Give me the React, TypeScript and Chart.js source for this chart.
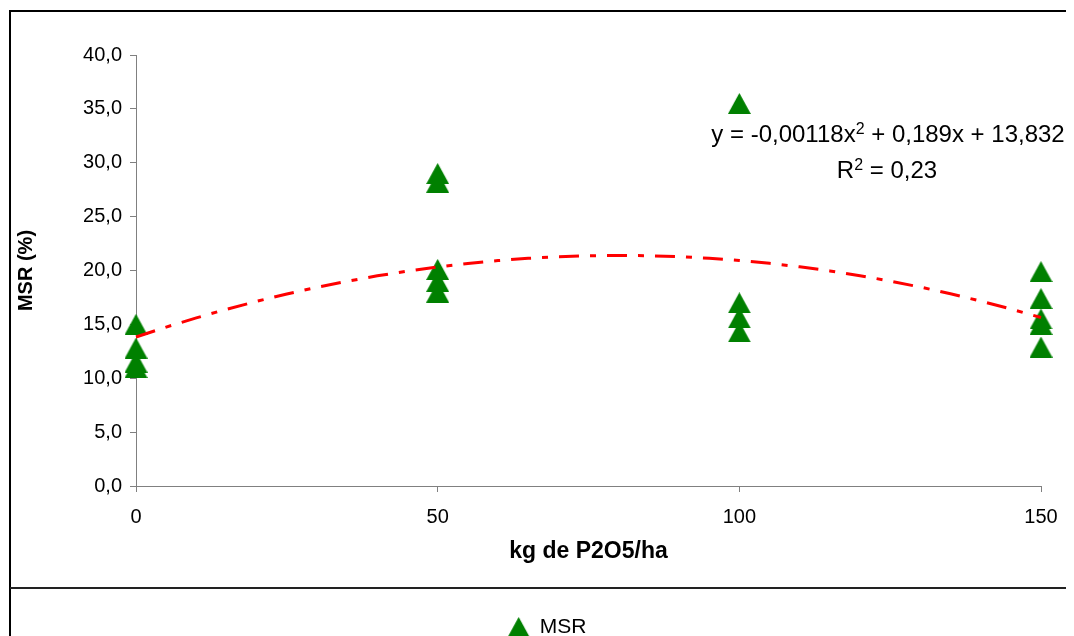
import React, { useEffect, useRef } from 'react';
import { Chart, registerables } from 'chart.js';

Chart.register(...registerables);

// ---- data ----
const DOSE_X = [0, 0, 0, 0, 50, 50, 50, 50, 50, 100, 100, 100, 100, 150, 150, 150, 150, 150];
const MSR_Y = [15.0, 12.8, 11.5, 11.0, 29.0, 28.2, 20.1, 19.0, 18.0, 35.5, 17.0, 15.6, 14.3, 19.9, 17.4, 15.5, 15.0, 12.9];

const X_TICKS = [0, 50, 100, 150];
const X_TICK_LABELS = ['0', '50', '100', '150'];
const Y_TICKS = [0, 5, 10, 15, 20, 25, 30, 35, 40];
const Y_TICK_LABELS = ['0,0', '5,0', '10,0', '15,0', '20,0', '25,0', '30,0', '35,0', '40,0'];

// polynomial trendline shown on the chart: y = a x^2 + b x + c
const TREND_A = -0.00118;
const TREND_B = 0.189;
const TREND_C = 13.832;
const TREND_X = [0, 5, 10, 15, 20, 25, 30, 35, 40, 45, 50, 55, 60, 65, 70, 75, 80, 85, 90, 95, 100, 105, 110, 115, 120, 125, 130, 135, 140, 145, 150];

const SERIES_LABEL = 'MSR';
const X_TITLE = 'kg de P2O5/ha';
const Y_TITLE = 'MSR (%)';
const EQ_LINE1 = [
  { t: 'y = -0,00118x', sup: false },
  { t: '2', sup: true },
  { t: ' + 0,189x + 13,832', sup: false },
];
const EQ_LINE2 = [
  { t: 'R', sup: false },
  { t: '2', sup: true },
  { t: ' = 0,23', sup: false },
];

const FONT = '"Liberation Sans", Arial, sans-serif';
const GREEN = '#008000';

function makeTriangle(w: number, h: number, color: string): HTMLCanvasElement {
  const c = document.createElement('canvas');
  c.width = w;
  c.height = h;
  const g = c.getContext('2d')!;
  g.fillStyle = color;
  g.beginPath();
  g.moveTo(w / 2, 0);
  g.lineTo(w, h);
  g.lineTo(0, h);
  g.closePath();
  g.fill();
  return c;
}

function drawRich(ctx: CanvasRenderingContext2D, parts: { t: string; sup: boolean }[], cx: number, baseline: number) {
  const main = `24px ${FONT}`;
  const sup = `16px ${FONT}`;
  let total = 0;
  const widths = parts.map((p) => {
    ctx.font = p.sup ? sup : main;
    const w = ctx.measureText(p.t).width;
    total += w;
    return w;
  });
  let x = cx - total / 2;
  ctx.textAlign = 'left';
  ctx.textBaseline = 'alphabetic';
  ctx.fillStyle = '#000';
  parts.forEach((p, i) => {
    ctx.font = p.sup ? sup : main;
    ctx.fillText(p.t, x, p.sup ? baseline - 8 : baseline);
    x += widths[i];
  });
}

const decorPlugin = {
  id: 'decor',
  afterDraw(chart: any) {
    const ctx: CanvasRenderingContext2D = chart.ctx;
    ctx.save();
    ctx.strokeStyle = '#000';
    ctx.lineWidth = 2;
    ctx.beginPath();
    ctx.moveTo(2, chart.height);
    ctx.lineTo(2, 3);
    ctx.lineTo(chart.width, 3);
    ctx.stroke();
    ctx.strokeStyle = '#222';
    ctx.lineWidth = 2;
    ctx.beginPath();
    ctx.moveTo(2, 580);
    ctx.lineTo(chart.width, 580);
    ctx.stroke();
    drawRich(ctx, EQ_LINE1, 880, 133.7);
    drawRich(ctx, EQ_LINE2, 879, 170);
    ctx.restore();
  },
};

export default function App() {
  const ref = useRef<HTMLCanvasElement | null>(null);

  useEffect(() => {
    document.documentElement.style.overflow = 'hidden';
    const canvas = ref.current;
    if (!canvas) return;
    Chart.defaults.font.family = FONT;
    Chart.defaults.color = '#000';

    const tri = makeTriangle(23, 21, GREEN);
    const points = DOSE_X.map((x, i) => ({ x, y: MSR_Y[i] }));
    const trend = TREND_X.map((x) => ({ x, y: TREND_A * x * x + TREND_B * x + TREND_C }));

    const chart = new Chart(canvas, {
      type: 'scatter',
      data: {
        datasets: [
          {
            label: SERIES_LABEL,
            data: points,
            pointStyle: tri,
            pointRadius: 12,
            pointHoverRadius: 12,
            backgroundColor: GREEN,
            borderColor: GREEN,
            borderWidth: 0,
            clip: false,
            order: 1,
          } as any,
          {
            label: 'trend',
            data: trend,
            showLine: true,
            pointRadius: 0,
            borderColor: '#FF0000',
            backgroundColor: '#FF0000',
            borderWidth: 3,
            borderDash: [20, 11, 6, 11],
            tension: 0,
            fill: false,
            clip: false,
            order: 0,
          } as any,
        ],
      },
      options: {
        responsive: false,
        animation: false,
        devicePixelRatio: 1,
        layout: { padding: { left: 45.5, right: 33, top: 47, bottom: 0 } },
        plugins: {
          tooltip: { enabled: false },
          legend: {
            display: true,
            position: 'bottom',
            labels: {
              usePointStyle: true,
              boxHeight: 19,
              color: '#000',
              font: { size: 21, family: FONT },
              filter: (item: any) => item.datasetIndex === 0,
            },
          },
        },
        scales: {
          x: {
            type: 'linear',
            position: 'bottom',
            min: 0,
            max: 150,
            afterBuildTicks: (s: any) => {
              s.ticks = X_TICKS.map((v) => ({ value: v }));
            },
            afterFit: (s: any) => {
              s.height = 121;
            },
            ticks: {
              autoSkip: false,
              maxRotation: 0,
              padding: 13,
              color: '#000',
              font: { size: 20, family: FONT },
              callback: (_v: any, i: number) => X_TICK_LABELS[i],
            },
            grid: { drawOnChartArea: false, drawTicks: true, tickLength: 6, color: '#808080' },
            border: { color: '#808080', width: 1 },
            title: {
              display: true,
              text: X_TITLE,
              color: '#000',
              font: { size: 23, weight: 'bold', family: FONT },
              padding: { top: 0, bottom: 41.2 },
            },
          },
          y: {
            type: 'linear',
            position: 'left',
            min: 0,
            max: 40,
            afterBuildTicks: (s: any) => {
              s.ticks = Y_TICKS.map((v) => ({ value: v }));
            },
            afterFit: (s: any) => {
              s.width = 82.5;
            },
            ticks: {
              autoSkip: false,
              padding: 8,
              color: '#000',
              font: { size: 20, family: FONT },
              callback: (_v: any, i: number) => Y_TICK_LABELS[i],
            },
            grid: { drawOnChartArea: false, drawTicks: true, tickLength: 6, color: '#808080' },
            border: { color: '#808080', width: 1 },
            title: {
              display: true,
              text: Y_TITLE,
              color: '#000',
              font: { size: 20, weight: 'bold', family: FONT },
              padding: { top: -38.7, bottom: 0 },
            },
          },
        },
      } as any,
      plugins: [decorPlugin],
    });
    return () => chart.destroy();
  }, []);

  return <canvas ref={ref} width={1066} height={640} style={{ display: 'block' }} />;
}
